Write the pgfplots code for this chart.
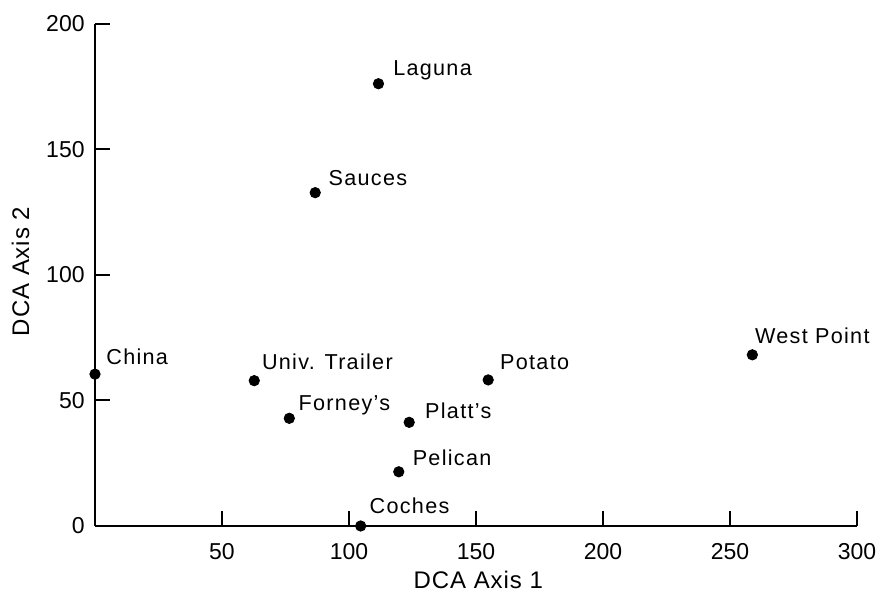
\documentclass[border=0pt]{standalone}
\usepackage{fontspec}
\setmainfont{Liberation Sans}
\newfontfamily\labfont[LetterSpace=6]{Liberation Sans}
\newfontfamily\axfont[LetterSpace=4]{Liberation Sans}
\usepackage{pgfplots}
\pgfplotsset{compat=1.18}
\begin{document}
\begin{tikzpicture}
\useasboundingbox (-47.5pt,-33.5pt) rectangle (392.5pt,263pt);
\begin{axis}[
  at={(0pt,0pt)}, anchor=south west,
  scale only axis, width=381pt, height=251pt,
  xmin=0, xmax=300, ymin=0, ymax=200,
  axis x line*=bottom, axis y line*=left,
  axis line style={line width=1.2pt, black},
  every tick/.style={line width=1pt, black},
  tick align=inside, major tick length=7.5pt,
  xtick={50,100,150,200,250,300},
  ytick={0,50,100,150,200},
  /pgf/number format/assume math mode=true,
  tick label style={font=\fontsize{11.5}{13}\selectfont},
  yticklabel style={anchor=east, inner sep=0pt, xshift=-5pt},
  xticklabel style={anchor=north, inner sep=0pt, yshift=-8.5pt},
  xlabel={DCA Axis 1}, ylabel={DCA Axis 2},
  label style={font=\fontsize{12}{14}\axfont},
  xlabel style={at={(axis description cs:0.503,-0.124)}, anchor=base, inner sep=0pt},
  ylabel style={at={(axis description cs:-0.0866,0.507)}, anchor=base, rotate=0, inner sep=0pt},
  clip=false,
]
\addplot[only marks, mark=*, mark size=2.6pt, black,
  point meta=explicit symbolic,
  visualization depends on={value \thisrow{dx} \as \dx},
  visualization depends on={value \thisrow{dy} \as \dy},
  nodes near coords,
  every node near coord/.append style={anchor=base west, inner sep=0pt,
     xshift=\dx pt, yshift=\dy pt, font=\fontsize{10.8}{12}\labfont, text=black},
] table[col sep=comma, row sep=\\, meta=label] {
x,y,label,dx,dy\\
0,60.5,China,5.5,5\\
62.7,57.9,Univ. Trailer,3.7,5.7\\
76.5,42.9,Forney’s,4.5,4\\
123.7,41.3,Platt’s,7.8,2\\
154.8,58.2,Potato,5.8,5.3\\
119.6,21.6,Pelican,6.8,3.3\\
104.6,0,Coches,4.3,6\\
258.8,68.2,West Point,1.2,5.5\\
111.6,176.2,Laguna,7.2,4\\
86.7,132.8,Sauces,6.5,3.6\\
};
\end{axis}
\end{tikzpicture}
\end{document}
